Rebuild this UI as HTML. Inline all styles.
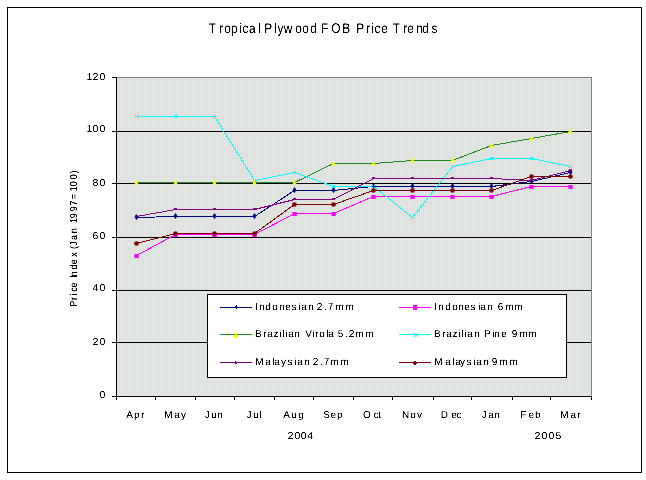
<!DOCTYPE html>
<html lang="en">
<head>
<meta charset="utf-8">
<title>Tropical Plywood FOB Price Trends</title>
<style>
html,body{margin:0;padding:0;background:#fff;}
body{width:646px;height:480px;overflow:hidden;}
svg{display:block;}
text{font-family:"Liberation Sans",Arial,Helvetica,sans-serif;fill:#000;white-space:pre;}
.t{font-size:14px;text-rendering:geometricPrecision;}
.a,.d,.r{font-size:10px;text-rendering:geometricPrecision;}
</style>
</head>
<body>
<svg width="646" height="480" viewBox="0 0 646 480">
<rect x="0" y="0" width="646" height="480" fill="#fff"/>
<g shape-rendering="crispEdges">
<rect x="7.5" y="7.5" width="634" height="465" fill="#fff" stroke="#000" stroke-width="1"/>
<defs><pattern id="dither" x="0" y="0" width="4" height="4" patternUnits="userSpaceOnUse"><rect width="4" height="4" fill="#DEE5DE"/><rect x="0" y="0" width="4" height="1" fill="#E5E5E5"/><rect x="0" y="2" width="4" height="1" fill="#E5E5E5"/><rect x="1" y="0" width="1" height="1" fill="#DCDCDC"/><rect x="3" y="0" width="1" height="1" fill="#DCDCDC"/><rect x="1" y="2" width="1" height="1" fill="#DCDCDC"/><rect x="3" y="2" width="1" height="1" fill="#DCDCDC"/><rect x="3" y="1" width="1" height="1" fill="#E4E4E4"/><rect x="1" y="3" width="1" height="1" fill="#E4E4E4"/></pattern></defs>
<rect x="116" y="77" width="476" height="320" fill="#DFE1DE"/>
<rect x="116" y="77" width="476" height="320" fill="url(#dither)"/>
<path d="M116 131.5H592M116 183.5H592M116 237.5H592M116 290.5H592M116 342.5H592" stroke="#000" stroke-width="1" fill="none"/>
<path d="M116 77.5H592M591.5 77V396" stroke="#808080" stroke-width="1" fill="none"/>
<path d="M116.5 77V397M112 396.5H592" stroke="#000" stroke-width="1" fill="none"/>
<path d="M112 77.5H116M112 131.5H116M112 183.5H116M112 237.5H116M112 290.5H116M112 342.5H116M112 396.5H116" stroke="#000" stroke-width="1" fill="none"/>
<path d="M116.5 396V400M155.5 396V400M195.5 396V400M234.5 396V400M274.5 396V400M313.5 396V400M353.5 396V400M392.5 396V400M433.5 396V400M471.5 396V400M512.5 396V400M550.5 396V400M591.5 396V400" stroke="#000" stroke-width="1" fill="none"/>
</g>
<g shape-rendering="crispEdges" fill="none" stroke-width="1">
<polyline points="136.5,217.5 175.5,216.5 214.5,216.5 254.5,216.5 294.5,190.5 333.5,190.5 373.5,186.5 412.5,186.5 452.5,186.5 491.5,186.5 531.5,181.5 570.5,172.5" stroke="#000080"/>
<polyline points="136.5,255.5 175.5,234.5 214.5,234.5 254.5,234.5 294.5,213.5 333.5,213.5 373.5,196.5 412.5,196.5 452.5,196.5 491.5,196.5 531.5,186.5 570.5,186.5" stroke="#FF00FF"/>
<polyline points="136.5,182.5 175.5,182.5 214.5,182.5 254.5,182.5 294.5,182.5 333.5,163.5 373.5,163.5 412.5,160.5 452.5,160.5 491.5,145.5 531.5,138.5 570.5,131.5" stroke="#1C8A1C"/>
<polyline points="136.5,116.5 175.5,116.5 214.5,116.5 254.5,180.5 294.5,172.5 333.5,186.5 373.5,186.5 412.5,217.5 452.5,166.5 491.5,158.5 531.5,158.5 570.5,166.5" stroke="#00FFFF"/>
<polyline points="136.5,216.5 175.5,209.5 214.5,209.5 254.5,209.5 294.5,199.5 333.5,199.5 373.5,178.5 412.5,178.5 452.5,178.5 491.5,178.5 531.5,180.5 570.5,170.5" stroke="#800080"/>
<polyline points="136.5,243.5 175.5,233.5 214.5,233.5 254.5,233.5 294.5,204.5 333.5,204.5 373.5,190.5 412.5,190.5 452.5,190.5 491.5,190.5 531.5,176.5 570.5,176.5" stroke="#800000"/>
</g>
<g>
<path d="M136.5 214L138.5 217.1L136.5 220.2L134.5 217.1Z" fill="#000080"/><path d="M175.5 213L177.5 216.1L175.5 219.2L173.5 216.1Z" fill="#000080"/><path d="M214.5 213L216.5 216.1L214.5 219.2L212.5 216.1Z" fill="#000080"/><path d="M254.5 213L256.5 216.1L254.5 219.2L252.5 216.1Z" fill="#000080"/><path d="M294.5 187L296.5 190.1L294.5 193.2L292.5 190.1Z" fill="#000080"/><path d="M333.5 187L335.5 190.1L333.5 193.2L331.5 190.1Z" fill="#000080"/><path d="M373.5 183L375.5 186.1L373.5 189.2L371.5 186.1Z" fill="#000080"/><path d="M412.5 183L414.5 186.1L412.5 189.2L410.5 186.1Z" fill="#000080"/><path d="M452.5 183L454.5 186.1L452.5 189.2L450.5 186.1Z" fill="#000080"/><path d="M491.5 183L493.5 186.1L491.5 189.2L489.5 186.1Z" fill="#000080"/><path d="M531.5 178L533.5 181.1L531.5 184.2L529.5 181.1Z" fill="#000080"/><path d="M570.5 169L572.5 172.1L570.5 175.2L568.5 172.1Z" fill="#000080"/>
<rect x="134.4" y="254" width="4.3" height="4" fill="#FF00FF"/><rect x="173.4" y="233" width="4.3" height="4" fill="#FF00FF"/><rect x="212.4" y="233" width="4.3" height="4" fill="#FF00FF"/><rect x="252.4" y="233" width="4.3" height="4" fill="#FF00FF"/><rect x="292.4" y="212" width="4.3" height="4" fill="#FF00FF"/><rect x="331.4" y="212" width="4.3" height="4" fill="#FF00FF"/><rect x="371.4" y="195" width="4.3" height="4" fill="#FF00FF"/><rect x="410.4" y="195" width="4.3" height="4" fill="#FF00FF"/><rect x="450.4" y="195" width="4.3" height="4" fill="#FF00FF"/><rect x="489.4" y="195" width="4.3" height="4" fill="#FF00FF"/><rect x="529.4" y="185" width="4.3" height="4" fill="#FF00FF"/><rect x="568.4" y="185" width="4.3" height="4" fill="#FF00FF"/>
<path d="M136.5 179.7L138.7 184.4L134.3 184.4Z" fill="#FFFF00"/><path d="M175.5 179.7L177.7 184.4L173.3 184.4Z" fill="#FFFF00"/><path d="M214.5 179.7L216.7 184.4L212.3 184.4Z" fill="#FFFF00"/><path d="M254.5 179.7L256.7 184.4L252.3 184.4Z" fill="#FFFF00"/><path d="M294.5 179.7L296.7 184.4L292.3 184.4Z" fill="#FFFF00"/><path d="M333.5 160.7L335.7 165.4L331.3 165.4Z" fill="#FFFF00"/><path d="M373.5 160.7L375.7 165.4L371.3 165.4Z" fill="#FFFF00"/><path d="M412.5 157.7L414.7 162.4L410.3 162.4Z" fill="#FFFF00"/><path d="M452.5 157.7L454.7 162.4L450.3 162.4Z" fill="#FFFF00"/><path d="M491.5 142.7L493.7 147.4L489.3 147.4Z" fill="#FFFF00"/><path d="M531.5 135.7L533.7 140.4L529.3 140.4Z" fill="#FFFF00"/><path d="M570.5 128.7L572.7 133.4L568.3 133.4Z" fill="#FFFF00"/>
<path d="M135 115h1v1h-1zM137 115h1v1h-1zM135 117h1v1h-1zM137 117h1v1h-1z" fill="#00FFFF" shape-rendering="crispEdges"/><path d="M174 115h1v1h-1zM176 115h1v1h-1zM174 117h1v1h-1zM176 117h1v1h-1z" fill="#00FFFF" shape-rendering="crispEdges"/><path d="M213 115h1v1h-1zM215 115h1v1h-1zM213 117h1v1h-1zM215 117h1v1h-1z" fill="#00FFFF" shape-rendering="crispEdges"/><path d="M253 179h1v1h-1zM255 179h1v1h-1zM253 181h1v1h-1zM255 181h1v1h-1z" fill="#00FFFF" shape-rendering="crispEdges"/><path d="M293 171h1v1h-1zM295 171h1v1h-1zM293 173h1v1h-1zM295 173h1v1h-1z" fill="#00FFFF" shape-rendering="crispEdges"/><path d="M332 185h1v1h-1zM334 185h1v1h-1zM332 187h1v1h-1zM334 187h1v1h-1z" fill="#00FFFF" shape-rendering="crispEdges"/><path d="M372 185h1v1h-1zM374 185h1v1h-1zM372 187h1v1h-1zM374 187h1v1h-1z" fill="#00FFFF" shape-rendering="crispEdges"/><path d="M411 216h1v1h-1zM413 216h1v1h-1zM411 218h1v1h-1zM413 218h1v1h-1z" fill="#00FFFF" shape-rendering="crispEdges"/><path d="M451 165h1v1h-1zM453 165h1v1h-1zM451 167h1v1h-1zM453 167h1v1h-1z" fill="#00FFFF" shape-rendering="crispEdges"/><path d="M490 157h1v1h-1zM492 157h1v1h-1zM490 159h1v1h-1zM492 159h1v1h-1z" fill="#00FFFF" shape-rendering="crispEdges"/><path d="M530 157h1v1h-1zM532 157h1v1h-1zM530 159h1v1h-1zM532 159h1v1h-1z" fill="#00FFFF" shape-rendering="crispEdges"/><path d="M569 165h1v1h-1zM571 165h1v1h-1zM569 167h1v1h-1zM571 167h1v1h-1z" fill="#00FFFF" shape-rendering="crispEdges"/>
<path d="M135 215h3v2h-3z" fill="#800080" shape-rendering="crispEdges"/><path d="M174 208h3v2h-3z" fill="#800080" shape-rendering="crispEdges"/><path d="M213 208h3v2h-3z" fill="#800080" shape-rendering="crispEdges"/><path d="M253 208h3v2h-3z" fill="#800080" shape-rendering="crispEdges"/><path d="M293 198h3v2h-3z" fill="#800080" shape-rendering="crispEdges"/><path d="M332 198h3v2h-3z" fill="#800080" shape-rendering="crispEdges"/><path d="M372 177h3v2h-3z" fill="#800080" shape-rendering="crispEdges"/><path d="M411 177h3v2h-3z" fill="#800080" shape-rendering="crispEdges"/><path d="M451 177h3v2h-3z" fill="#800080" shape-rendering="crispEdges"/><path d="M490 177h3v2h-3z" fill="#800080" shape-rendering="crispEdges"/><path d="M530 179h3v2h-3z" fill="#800080" shape-rendering="crispEdges"/><path d="M569 169h3v2h-3z" fill="#800080" shape-rendering="crispEdges"/>
<circle cx="136.5" cy="243.5" r="2.35" fill="#800000"/><circle cx="175.5" cy="233.5" r="2.35" fill="#800000"/><circle cx="214.5" cy="233.5" r="2.35" fill="#800000"/><circle cx="254.5" cy="233.5" r="2.35" fill="#800000"/><circle cx="294.5" cy="204.5" r="2.35" fill="#800000"/><circle cx="333.5" cy="204.5" r="2.35" fill="#800000"/><circle cx="373.5" cy="190.5" r="2.35" fill="#800000"/><circle cx="412.5" cy="190.5" r="2.35" fill="#800000"/><circle cx="452.5" cy="190.5" r="2.35" fill="#800000"/><circle cx="491.5" cy="190.5" r="2.35" fill="#800000"/><circle cx="531.5" cy="176.5" r="2.35" fill="#800000"/><circle cx="570.5" cy="176.5" r="2.35" fill="#800000"/>
</g>
<g shape-rendering="crispEdges">
<rect x="207.5" y="294.5" width="359" height="83" fill="#fff" stroke="#000" stroke-width="1"/>
<path d="M220 307.5H252" stroke="#000080" stroke-width="1"/>
<path d="M399 307.5H431" stroke="#FF00FF" stroke-width="1"/>
<path d="M220 334.5H252" stroke="#1C8A1C" stroke-width="1"/>
<path d="M399 334.5H431" stroke="#00FFFF" stroke-width="1"/>
<path d="M220 362.5H252" stroke="#800080" stroke-width="1"/>
<path d="M399 362.5H431" stroke="#800000" stroke-width="1"/>
</g>
<g>
<path d="M236 305h1v4h-1zM235 306h1v2h-1z" fill="#000080" shape-rendering="crispEdges"/>
<path d="M413 305h4v5h-4z" fill="#FF00FF" shape-rendering="crispEdges"/>
<path d="M236 332h1v1h-1zM235 333h2v2h-2zM234 335h4v3h-4z" fill="#FFFF00" shape-rendering="crispEdges"/>
<path d="M414 333h1v1h-1zM417 333h1v1h-1zM415 335h2v1h-2zM414 336h1v1h-1zM417 336h1v1h-1z" fill="#00FFFF" shape-rendering="crispEdges"/>
<path d="M235 361h1v3h-1zM236 362h1v2h-1z" fill="#800080" shape-rendering="crispEdges"/>
<path d="M414 361h2v4h-2zM413 362h4v2h-4z" fill="#800000" shape-rendering="crispEdges"/>
</g>
<defs><filter id="crisp" x="0" y="0" width="646" height="480" filterUnits="userSpaceOnUse" color-interpolation-filters="sRGB"><feComponentTransfer><feFuncA type="table" tableValues="0 0.15 1 1"/></feComponentTransfer></filter><filter id="crisp2" x="0" y="0" width="646" height="480" filterUnits="userSpaceOnUse" color-interpolation-filters="sRGB"><feComponentTransfer><feFuncA type="table" tableValues="0 0.3 1 1"/></feComponentTransfer></filter></defs>
<g filter="url(#crisp)">
<text class="t" transform="scale(0.85,1)" x="245.73 257.91 263.75 271.83 281.39 285.21 292.87 303.74 306.85 311.01 322.56 326.5 333.76 347.28 355.52 365.09 372.87 377.78 389.85 402.77 412.11 419.24 430.85 436.68 440.5 448.47 456.26 462.2 474.38 479.06 489.63 496.85 507.73" y="33">Tropical Plywood FOB Price Trends</text>
<text class="a" x="126.17 134.11 141.04" y="418">Apr</text>
<text class="a" x="164.33 174.26 181" y="418">May</text>
<text class="a" x="204.79 211.23 217.21" y="418">Jun</text>
<text class="a" x="246.54 253.23 259.39" y="418">Jul</text>
<text class="a" x="283.17 291.23 298.33" y="418">Aug</text>
<text class="a" x="323.17 330.48 337.11" y="418">Sep</text>
<text class="a" x="363.11 373.42 378.32" y="418">Oct</text>
<text class="a" x="401.89 410.22 417" y="418">Nov</text>
<text class="a" x="440.72 451.23 456.42" y="418">Dec</text>
<text class="a" x="481.79 488.26 494.21" y="418">Jan</text>
<text class="a" x="520.24 528.48 535.11" y="418">Feb</text>
<text class="a" x="560.33 570.51 577.34" y="418">Mar</text>
<text class="d" transform="scale(1.05,1)" x="273.89 280.55 286.5 292.58" y="439">2004</text>
<text class="d" transform="scale(1.05,1)" x="509.12 515.79 522.46 529.13" y="439">2005</text>
<text class="d" transform="scale(1.05,1)" x="82.29 88.17 94.84" y="80">120</text>
<text class="d" transform="scale(1.05,1)" x="82.29 88.17 94.84" y="132">100</text>
<text class="d" transform="scale(1.05,1)" x="88.17 94.84" y="186">80</text>
<text class="d" transform="scale(1.05,1)" x="88.14 94.84" y="239">60</text>
<text class="d" transform="scale(1.05,1)" x="88.2 94.84" y="291">40</text>
<text class="d" transform="scale(1.05,1)" x="88.17 94.84" y="345">20</text>
<text class="d" transform="scale(1.05,1)" x="94.84" y="398">0</text>
<text class="a" x="255.11 259.21 265.33 272.22 279.21 285.23 291.54 298.39 301.26 308.21 313.77 316.72 324.11 327.71 335.33 345.33" y="310">Indonesian 2.7mm</text>
<text class="a" x="255.02 263.34 267.26 273.55 279.39 282.39 285.39 288.26 294.21 299.77 305.17 312.39 315.34 319.22 326.39 328.26 333.82 337.73 345.11 348.72 355.33 365.33" y="337">Brazilian Virola 5.2mm</text>
<text class="a" x="255.33 265.26 272.39 274.26 281 287.54 294.39 297.26 304.21 309.77 312.72 320.11 323.71 330.33 340.33" y="365">Malaysian 2.7mm</text>
<text class="a" x="434.11 438.21 445.33 452.22 458.21 464.23 470.54 478.39 480.26 487.21 492.77 497.69 505.33 514.33" y="310">Indonesian 6mm</text>
<text class="a" x="434.02 442.34 446.26 452.55 458.39 461.39 464.39 467.26 474.21 479.77 484.02 492.39 494.21 501.23 506.79 511.72 519.33 528.33" y="337">Brazilian Pine 9mm</text>
<text class="a" x="434.33 445.26 452.39 455.26 460 466.54 473.39 476.26 483.21 488.77 491.72 499.33 509.33" y="365">Malaysian 9mm</text>
</g>
<g filter="url(#crisp2)">
<text class="r" transform="translate(77,480) rotate(-90) scale(0.9,1)" x="192.63 200.03 205 209.09 213.9 219.46 224.72 226.1 234 239.78 248.05 253.05 256.67 260.4 266.67 274.1 279.66 285.61 290.78 298.56 304.99 312.08 320.94 326.33 334.11 340.5" y="0">Price Index (Jan 1997=100)</text>
</g>
</svg>
</body>
</html>
